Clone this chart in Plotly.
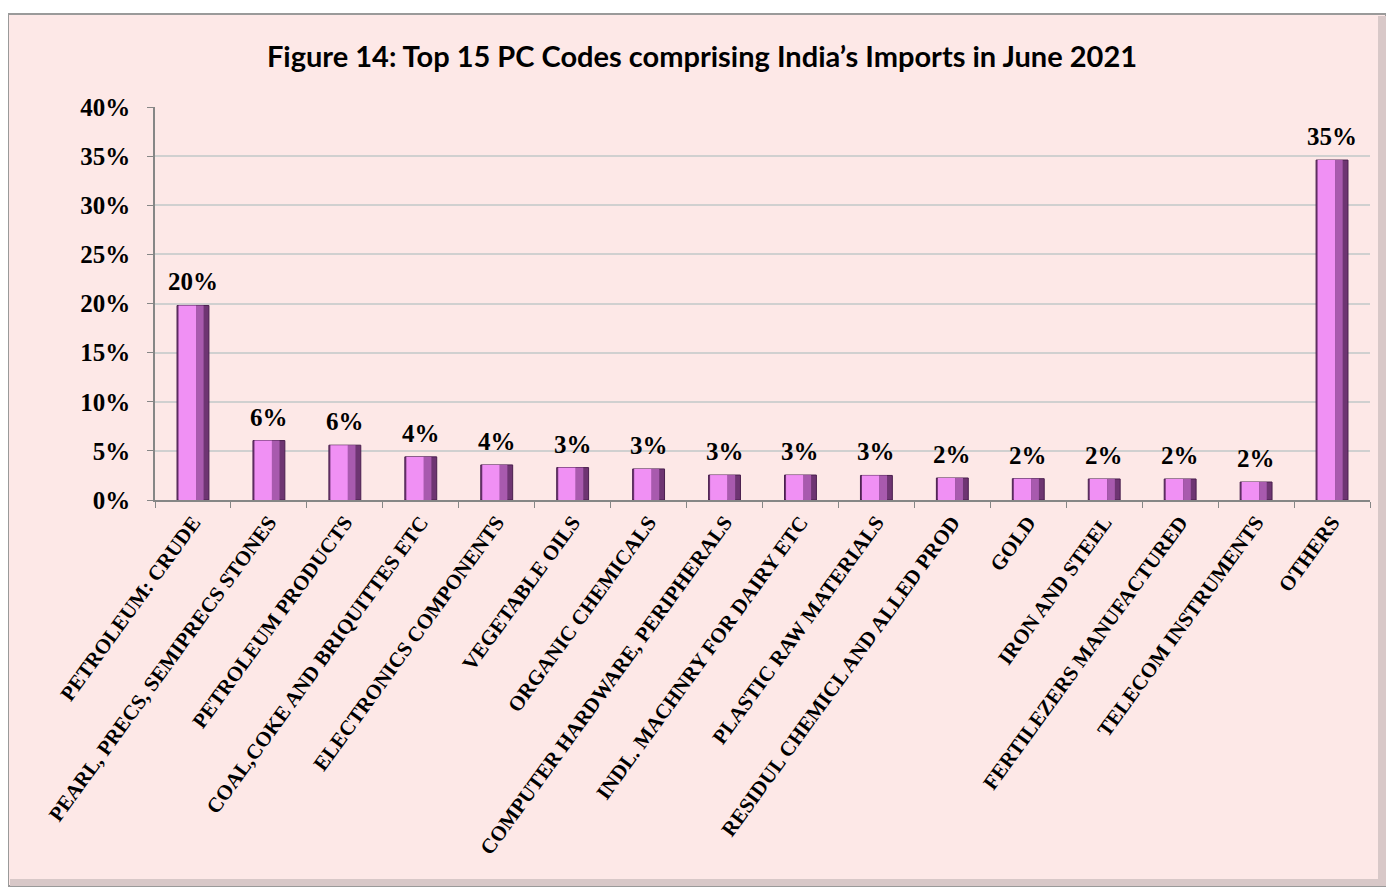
import plotly.graph_objects as go

categories = [
    "PETROLEUM: CRUDE", "PEARL, PRECS, SEMIPRECS STONES", "PETROLEUM PRODUCTS",
    "COAL,COKE AND BRIQUITTES ETC", "ELECTRONICS COMPONENTS", "VEGETABLE OILS",
    "ORGANIC CHEMICALS", "COMPUTER HARDWARE, PERIPHERALS", "INDL. MACHNRY FOR DAIRY ETC",
    "PLASTIC RAW MATERIALS", "RESIDUL CHEMICL AND ALLED PROD", "GOLD", "IRON AND STEEL",
    "FERTILEZERS MANUFACTURED", "TELECOM INSTRUMENTS", "OTHERS",
]
shares = [19.8, 6.05, 5.58, 4.39, 3.57, 3.30, 3.16, 2.54, 2.54, 2.50, 2.24, 2.17, 2.14, 2.14, 1.83, 34.6]
labels = ["20%", "6%", "6%", "4%", "4%", "3%", "3%", "3%", "3%", "3%", "2%", "2%", "2%", "2%", "2%", "35%"]
y_ticks = [0, 5, 10, 15, 20, 25, 30, 35, 40]
y_ticktext = [f"{t}%" for t in y_ticks]

title = "Figure 14: Top 15 PC Codes comprising India\u2019s Imports in June 2021"

# page body has an 8px margin; work in target-pixel coordinates minus this offset
OFF = 8
W, H = 1380, 881
L, R, T, B = 155 - OFF, W - (1370 - OFF), 107 - OFF, H - (500 - OFF)
pw, ph = W - L - R, H - T - B

def px_x(x):
    return (x - OFF - L) / pw

def px_y(y):
    return (H - B - (y - OFF)) / ph

serif = "Liberation Serif"

fig = go.Figure()
# dark base of the bevelled bars
fig.add_trace(go.Bar(
    x=categories, y=shares, width=0.42,
    marker=dict(color="#6E3572", line=dict(color="#4A1F4E", width=1)),
    hoverinfo="skip", showlegend=False,
))
# light face
fig.add_trace(go.Bar(
    x=categories, y=shares, width=0.23, offset=-0.19,
    marker=dict(color="#F090F4", line=dict(width=0)),
    hoverinfo="skip", showlegend=False,
))
# mid tone
fig.add_trace(go.Bar(
    x=categories, y=shares, width=0.1, offset=0.04,
    marker=dict(color="#A85AAE", line=dict(width=0)),
    hoverinfo="skip", showlegend=False,
))

annotations = [
    dict(x=c, y=v, text="<b>" + s + "</b>", showarrow=False, yanchor="bottom",
         yshift=8, font=dict(family=serif, size=25, color="black"))
    for c, v, s in zip(categories, shares, labels)
]

fig.update_layout(
    width=W, height=H,
    barmode="overlay",
    margin=dict(l=L, r=R, t=T, b=B, autoexpand=False),
    paper_bgcolor="white",
    plot_bgcolor="white",
    title=dict(text="<b>" + title + "</b>", x=(702 - OFF) / W, xanchor="center",
               y=1 - (57 - OFF) / H, yanchor="middle",
               font=dict(family="Lato", size=29, color="black")),
    xaxis=dict(
        tickangle=-54, tickfont=dict(family=serif, size=21, color="black"),
        ticks="outside", tickson="boundaries", ticklen=6, tickcolor="#868686",
        showline=True, linecolor="#868686", linewidth=1.5, showgrid=False,
        tickprefix="<b>", ticksuffix="</b>",
    ),
    yaxis=dict(
        range=[0, 40], tickvals=y_ticks, ticktext=["<b>" + t + "</b>" for t in y_ticktext],
        tickfont=dict(family=serif, size=25, color="black"),
        ticks="outside", ticklen=6, tickcolor="#868686", ticklabelstandoff=12,
        showline=True, linecolor="#868686", linewidth=1.5,
        showgrid=True, gridcolor="#D0D0D0", gridwidth=1.5, zeroline=False,
    ),
    annotations=annotations,
    shapes=[
        dict(type="rect", xref="paper", yref="paper", layer="below",
             x0=px_x(8), x1=px_x(1386), y0=px_y(886), y1=px_y(14),
             fillcolor="#FDE8E7", line=dict(color="#9A9A9A", width=2)),
        dict(type="rect", xref="paper", yref="paper", layer="below",
             x0=px_x(1378), x1=px_x(1386), y0=px_y(886), y1=px_y(16),
             fillcolor="#D8C8C8", line=dict(width=0)),
        dict(type="rect", xref="paper", yref="paper", layer="below",
             x0=px_x(10), x1=px_x(1386), y0=px_y(886), y1=px_y(879),
             fillcolor="#D8C8C8", line=dict(width=0)),
    ],
)

fig.write_html("out.html")
